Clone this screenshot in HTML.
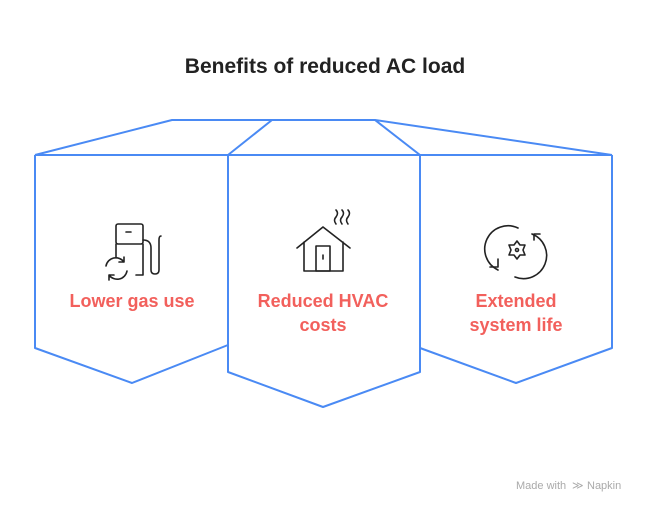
<!DOCTYPE html>
<html><head><style>
body{margin:0;width:650px;height:514px;background:#fff;overflow:hidden;font-family:"Liberation Sans",sans-serif}
</style></head><body>
<svg width="650" height="514" xmlns="http://www.w3.org/2000/svg">
<text x="325" y="73" text-anchor="middle" font-size="21" font-weight="bold" fill="#222">Benefits of reduced AC load</text>
<g fill="none" stroke="#4a8af4" stroke-width="2" stroke-linejoin="round">
<path d="M35,155 L172,120 L375,120 L612,155"/>
<path d="M228,155 L272,120 M375,120 L420,155"/>
<path d="M35,155 L612,155"/>
<path d="M35,155 L35,348 L132,383 L228,345"/>
<path d="M228,155 L228,372 L323,407 L420,372 L420,155"/>
<path d="M420,348 L516,383 L612,348 L612,155"/>
</g>
<g fill="none" stroke="#222" stroke-width="1.6" stroke-linecap="round" stroke-linejoin="round">
<rect x="116" y="224" width="27" height="20" rx="2"/>
<path d="M116,244 V257 M143,244 V275 H136 M126,232 h5"/>
<path d="M143,240 q8,0 8,8 v22 q0,4 4,4 q4,0 4,-4 v-30 q0,-4 2,-4"/>
<path d="M106,266 a10,10 0 0 1 18,-4 M124,262 v-5 M124,262 h-5"/>
<path d="M127,271 a10,10 0 0 1 -18,4 M109,275 v5 M109,275 h5"/>
<path d="M297,248 L323,227 L350,248 M304,242 V271 H343 V242"/>
<rect x="316" y="246" width="14" height="25"/>
<path d="M323,255 v4"/>
<path d="M336,224 q-3,-4 0,-7 q3,-4 0,-7 M342,224 q-3,-4 0,-7 q3,-4 0,-7 M348,224 q-3,-4 0,-7 q3,-4 0,-7"/>
<path d="M498,270 a23,23 0 0 1 20,-42"/>
<path d="M532,234 a23,23 0 0 1 -17,43"/>
<path d="M490,267 h8 v-8"/>
<path d="M540,234 h-6 v6"/>
<circle cx="517" cy="250" r="1.5"/>
<path d="M517,241 l3,4 5,0 -2,5 2,5 -5,0 -3,4 -3,-4 -5,0 2,-5 -2,-5 5,0z"/>
</g>
<g font-size="18" font-weight="bold" fill="#f2605c" text-anchor="middle">
<text x="132" y="307">Lower gas use</text>
<text x="323" y="307">Reduced HVAC</text>
<text x="323" y="331">costs</text>
<text x="516" y="307">Extended</text>
<text x="516" y="331">system life</text>
</g>
<text x="516" y="489" font-size="11" fill="#aaa">Made with</text>
<text x="572" y="489" font-size="11" fill="#aaa">≫</text>
<text x="587" y="489" font-size="11" fill="#aaa">Napkin</text>
</svg>
</body></html>
